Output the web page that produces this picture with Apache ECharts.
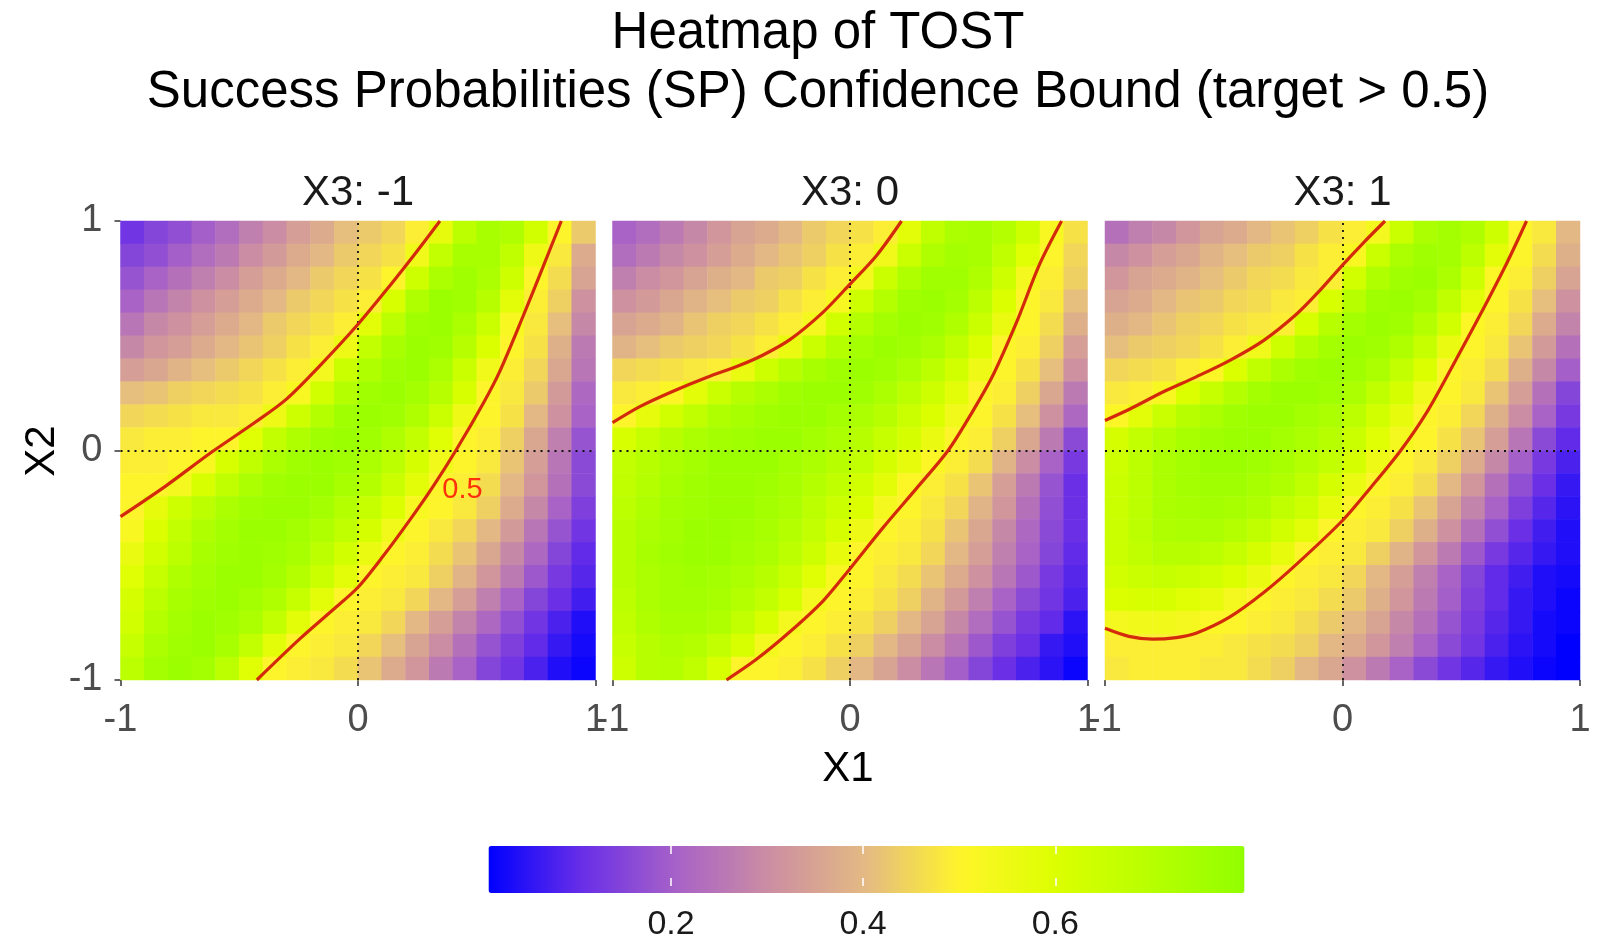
<!DOCTYPE html>
<html><head><meta charset="utf-8">
<script src="https://cdn.jsdelivr.net/npm/echarts@6/dist/echarts.min.js"></script>
<style>html,body{margin:0;padding:0;background:#fff}#c{width:1606px;height:942px}</style>
</head><body><div id="c"></div>
<script>
// ---------- data ----------
const mainTitle = ['Heatmap of TOST', 'Success Probabilities (SP) Confidence Bound (target > 0.5)'];
const panelNames = ['X3: -1', 'X3: 0', 'X3: 1'];
const xTitle = 'X1', yTitle = 'X2';
// cell centres (x1 left->right, x2 bottom->top)
const x1Cells = ['-0.95','-0.85','-0.75','-0.65','-0.55','-0.45','-0.35','-0.25','-0.15','-0.05','0.05','0.15','0.25','0.35','0.45','0.55','0.65','0.75','0.85','0.95'];
const x2Cells = ['-0.95','-0.85','-0.75','-0.65','-0.55','-0.45','-0.35','-0.25','-0.15','-0.05','0.05','0.15','0.25','0.35','0.45','0.55','0.65','0.75','0.85','0.95'];
const colorbarTicks = [0.2, 0.4, 0.6];
// SP confidence bound (x100), rows from x2 = 0.95 (top) down to x2 = -0.95
const spX3m1 = [
[12,15,17,20,23,27,30,34,37,41,43,45,49,57,69,74,72,63,50,43],
[15,17,20,23,26,30,33,37,40,43,45,47,54,67,74,74,68,55,48,37],
[18,21,24,27,30,34,37,40,43,45,47,50,64,73,76,73,64,50,46,35],
[21,25,28,31,34,37,40,43,45,47,49,61,72,77,76,70,58,49,44,31],
[25,29,31,34,37,40,43,45,47,49,58,69,76,77,73,65,52,48,41,29],
[29,32,34,37,40,42,44,47,49,55,67,74,77,76,70,60,50,47,38,26],
[34,36,39,41,43,45,47,49,53,65,72,76,77,73,65,54,49,45,36,25],
[41,42,44,45,46,47,49,52,63,71,76,77,75,70,61,50,48,43,33,22],
[45,46,47,48,48,49,55,64,71,76,77,76,72,65,55,50,47,40,31,21],
[48,49,49,50,50,59,67,72,76,77,76,72,67,59,50,49,44,36,27,18],
[49,49,50,52,61,68,73,76,77,76,73,69,62,54,50,48,42,34,25,16],
[50,50,53,61,68,73,76,77,77,74,71,65,58,50,49,46,40,32,24,16],
[50,57,64,69,73,76,77,77,75,71,66,60,52,50,48,44,37,29,21,14],
[52,60,67,72,75,77,77,75,72,68,62,54,50,48,45,40,33,25,18,12],
[56,63,69,74,76,77,76,74,69,63,56,50,49,46,42,36,29,22,15,10],
[59,66,72,75,77,77,75,71,65,58,50,49,48,44,39,32,26,19,13,9],
[62,69,74,76,77,75,72,66,58,50,49,48,45,40,34,27,21,15,11,7],
[63,71,75,77,76,73,67,58,50,49,48,45,40,34,28,22,17,12,8,4],
[66,73,76,77,74,67,58,50,49,48,45,41,35,30,24,18,14,10,6,3],
[69,75,77,75,69,59,50,49,48,46,42,37,32,26,21,15,12,8,4,2]];
const spX3z = [
[21,23,26,29,32,35,37,40,43,45,47,49,58,68,73,74,71,64,52,47],
[23,26,29,31,34,37,40,42,44,47,49,54,65,72,75,74,68,59,50,45],
[27,30,32,35,38,40,43,44,47,49,53,65,72,76,76,72,64,53,49,44],
[31,33,36,39,41,43,44,47,49,52,64,71,76,77,75,69,60,50,48,41],
[35,37,39,42,44,45,47,49,53,63,71,75,77,76,72,65,56,50,46,38],
[39,41,43,44,45,47,49,56,65,71,75,77,76,73,68,60,50,49,44,34],
[45,46,47,48,49,56,64,70,74,76,77,76,73,69,63,55,50,47,41,31],
[48,49,51,58,65,70,73,76,77,77,76,73,69,64,58,50,49,44,36,26],
[50,57,63,68,72,74,76,77,77,75,73,70,65,60,54,50,47,41,31,22],
[61,66,70,73,75,76,77,77,75,73,70,66,62,56,50,49,44,36,26,16],
[67,70,73,75,77,77,77,75,73,70,67,62,57,51,49,46,39,30,21,13],
[68,71,74,76,77,77,76,74,71,68,63,58,51,49,47,42,34,26,18,11],
[69,72,75,76,77,77,75,73,69,65,60,53,50,48,45,39,32,24,17,11],
[70,73,75,77,77,76,74,71,67,62,55,50,49,47,42,36,29,22,16,11],
[70,74,76,77,77,75,73,69,64,57,50,49,48,45,40,34,27,21,15,10],
[70,73,75,76,75,73,70,65,59,52,50,48,46,42,37,31,25,19,13,9],
[69,73,75,75,74,71,67,61,53,50,49,47,44,39,33,27,21,16,12,8],
[68,72,74,74,72,67,61,53,50,49,47,44,40,35,29,23,18,13,10,5],
[66,70,72,71,67,61,53,50,49,47,44,40,35,30,25,19,14,11,6,4],
[64,70,71,68,61,50,50,49,47,44,40,35,30,25,20,15,11,8,5,2]];
const spX3p1 = [
[24,27,29,32,35,37,40,42,44,47,49,53,65,73,75,72,64,50,48,40],
[29,31,34,36,39,41,43,44,47,49,52,65,73,76,75,69,58,50,46,38],
[32,35,37,39,41,43,45,46,48,49,63,72,76,77,73,64,51,49,44,35],
[35,37,40,42,43,45,46,48,49,61,70,76,77,75,68,58,50,47,41,31],
[38,40,42,44,45,47,48,49,61,70,75,77,76,71,63,51,49,45,37,28],
[41,43,44,45,47,49,54,64,71,75,77,76,72,66,56,50,48,42,33,24],
[45,46,47,49,51,60,68,73,76,77,76,73,67,60,50,49,46,38,29,20],
[48,49,52,60,66,71,75,77,77,76,73,68,62,54,50,48,42,34,24,15],
[51,58,65,70,73,76,77,77,75,73,69,63,57,50,49,45,38,30,21,13],
[62,67,71,74,76,77,77,75,73,70,65,59,53,50,47,42,34,25,16,10],
[64,69,73,75,77,77,76,74,71,67,62,55,50,48,44,37,29,20,13,8],
[65,69,73,75,76,76,74,72,68,62,56,50,49,46,40,32,24,17,11,6],
[65,69,73,74,75,74,72,68,64,57,50,49,47,42,35,28,21,14,9,5],
[65,69,72,73,73,71,68,63,58,50,49,48,44,38,31,24,17,11,7,4],
[65,68,70,70,69,66,62,57,50,49,48,44,39,32,26,19,13,9,6,4],
[63,65,66,65,63,60,56,50,49,48,45,40,34,27,21,15,10,7,4,3],
[60,61,61,59,57,53,50,49,48,46,43,38,32,26,20,14,10,6,4,2],
[53,54,54,53,51,50,49,48,46,43,40,35,29,24,18,13,9,6,3,2],
[49,49,49,49,49,48,47,46,44,40,37,32,27,21,16,12,8,5,3,1],
[48,49,49,49,48,48,46,44,40,36,31,26,21,16,12,9,6,4,2,1]];
// 0.5 contour lines [x1, x2]
const contourX3m1Upper = [[-1,-0.288],[-0.81,-0.155],[-0.62,-0.01],[-0.43,0.125],[-0.3,0.225],[-0.16,0.37],[0,0.55],[0.134,0.718],[0.246,0.865],[0.345,1]];
const contourX3m1Lower = [[-0.426,-1],[-0.244,-0.82],[-0.104,-0.693],[0,-0.596],[0.106,-0.46],[0.22,-0.3],[0.317,-0.155],[0.412,0],[0.527,0.205],[0.597,0.345],[0.695,0.585],[0.779,0.8],[0.856,1]];
const contourX3zUpper = [[-1,0.121],[-0.885,0.191],[-0.745,0.258],[-0.604,0.318],[-0.464,0.371],[-0.366,0.416],[-0.253,0.483],[-0.113,0.603],[0,0.725],[0.112,0.85],[0.217,1]];
const contourX3zLower = [[-0.52,-1],[-0.394,-0.91],[-0.253,-0.79],[-0.113,-0.655],[0,-0.515],[0.14,-0.335],[0.28,-0.165],[0.413,0],[0.519,0.175],[0.603,0.33],[0.701,0.558],[0.799,0.813],[0.891,1]];
const contourX3p1Upper = [[-1,0.131],[-0.895,0.181],[-0.754,0.256],[-0.614,0.322],[-0.474,0.393],[-0.333,0.479],[-0.193,0.595],[-0.095,0.698],[0,0.808],[0.088,0.905],[0.179,1]];
const contourX3p1Lower = [[-1,-0.775],[-0.9,-0.81],[-0.8,-0.822],[-0.7,-0.815],[-0.614,-0.795],[-0.474,-0.725],[-0.333,-0.62],[-0.193,-0.495],[0,-0.305],[0.12,-0.16],[0.245,0],[0.354,0.165],[0.467,0.375],[0.579,0.59],[0.691,0.815],[0.775,1]];
const contourLabel = {text: '0.5', x1: 0.44, x2: -0.17};

// ---------- build ----------
const FONT = "'Liberation Sans', Arial, Helvetica, sans-serif";
const tables = [spX3m1, spX3z, spX3p1];
const contours = [[contourX3m1Upper, contourX3m1Lower],[contourX3zUpper, contourX3zLower],[contourX3p1Upper, contourX3p1Lower]];
const L = [120.5, 612.5, 1105], W = 475, T = 221, H = 459;
const CB = {left: 488.5, top: 846, len: 756, thick: 47, min: 0.01, max: 0.797};
const pxPerUnit = CB.len / (CB.max - CB.min);

function cells(tab) {
  const out = [];
  const n = tab.length;
  tab.forEach((row, r) => row.forEach((v, c) => out.push([c, n - 1 - r, v / 100])));
  return out;
}

const grid = L.map(l => ({left: l, top: T, width: W, height: H}));
grid.push({left: CB.left - CB.min * pxPerUnit, top: CB.top, width: 0.8 * pxPerUnit, height: CB.thick});

const xAxis = [], yAxis = [], series = [];
for (let i = 0; i < 3; i++) {
  xAxis.push({type: 'category', gridIndex: i, data: x1Cells, show: false, position: 'top'});
  xAxis.push({type: 'value', gridIndex: i, min: -1, max: 1, interval: 1, position: 'bottom',
    axisLine: {show: false}, splitLine: {show: false},
    axisTick: {show: true, length: 6, lineStyle: {color: '#333333', width: 1.5}},
    axisLabel: {fontSize: 38, color: '#4d4d4d', margin: 22, fontFamily: FONT}});
  yAxis.push({type: 'category', gridIndex: i, data: x2Cells, show: false, position: 'right'});
  yAxis.push({type: 'value', gridIndex: i, min: -1, max: 1, interval: 1, position: 'left',
    axisLine: {show: false}, splitLine: {show: false},
    axisTick: {show: i === 0, length: 6, lineStyle: {color: '#333333', width: 1.5}},
    axisLabel: {show: i === 0, fontSize: 38, color: '#4d4d4d', margin: 18, fontFamily: FONT}});
}
// colour-bar tick axes
const cbTickFmt = v => colorbarTicks.some(t => Math.abs(t - v) < 1e-6) ? v.toFixed(1) : '';
xAxis.push({type: 'value', gridIndex: 3, min: 0, max: 0.8, interval: 0.2, position: 'bottom', z: 10,
  axisLine: {show: false}, splitLine: {show: false},
  axisTick: {show: true, inside: true, length: 8, lineStyle: {color: '#ffffff', width: 1.5}},
  axisLabel: {formatter: cbTickFmt, fontSize: 34, color: '#1a1a1a', margin: 22, fontFamily: FONT}});
xAxis.push({type: 'value', gridIndex: 3, min: 0, max: 0.8, interval: 0.2, position: 'top', z: 10,
  axisLine: {show: false}, splitLine: {show: false},
  axisTick: {show: true, inside: true, length: 8, lineStyle: {color: '#ffffff', width: 1.5}},
  axisLabel: {show: false}});
yAxis.push({type: 'value', gridIndex: 3, min: 0, max: 1, show: false});

for (let i = 0; i < 3; i++) {
  series.push({type: 'heatmap', xAxisIndex: 2 * i, yAxisIndex: 2 * i, data: cells(tables[i]),
    itemStyle: {borderWidth: 0}, emphasis: {disabled: true}, silent: true, progressive: 0});
}
for (let i = 0; i < 3; i++) {
  series.push({type: 'line', xAxisIndex: 2 * i + 1, yAxisIndex: 2 * i + 1, data: [], silent: true, z: 3,
    markLine: {silent: true, symbol: 'none', animation: false, label: {show: false},
      lineStyle: {type: [2, 5], color: '#111111', width: 1.8},
      data: [{xAxis: 0}, {yAxis: 0}]}});
  contours[i].forEach(line => series.push({type: 'line', xAxisIndex: 2 * i + 1, yAxisIndex: 2 * i + 1,
    data: line, smooth: 0.3, symbol: 'none', showSymbol: false, silent: true, z: 5,
    lineStyle: {color: '#d32a0c', width: 3.2}}));
}
series.push({type: 'scatter', xAxisIndex: 1, yAxisIndex: 1, data: [[contourLabel.x1, contourLabel.x2]],
  symbolSize: 0, silent: true, z: 6,
  label: {show: true, position: 'inside', formatter: contourLabel.text, color: '#ff0000', fontSize: 29, fontFamily: FONT}});

function txt(x, y, text, size, color, rot) {
  return {type: 'text', x: x, y: y, rotation: rot || 0, silent: true, z: 20,
    style: {text: text, font: size + 'px ' + FONT, fill: color,
      align: 'center', verticalAlign: 'middle', textAlign: 'center', textVerticalAlign: 'middle'}};
}
const graphic = [
  txt(818, 34, mainTitle[0], 51, '#000000'),
  txt(818, 93, mainTitle[1], 51, '#000000'),
  txt(L[0] + W / 2, 193, panelNames[0], 42, '#1a1a1a'),
  txt(L[1] + W / 2, 193, panelNames[1], 42, '#1a1a1a'),
  txt(L[2] + W / 2, 193, panelNames[2], 42, '#1a1a1a'),
  txt(848, 769, xTitle, 42, '#000000'),
  txt(42, 451, yTitle, 42, '#000000', Math.PI / 2)
];

const option = {
  backgroundColor: '#ffffff',
  animation: false,
  grid: grid, xAxis: xAxis, yAxis: yAxis, series: series, graphic: graphic,
  visualMap: {type: 'continuous', seriesIndex: [0, 1, 2], min: CB.min, max: CB.max,
    orient: 'horizontal', left: CB.left, top: CB.top, itemWidth: CB.thick, itemHeight: CB.len,
    calculable: false, hoverLink: false, padding: 0, text: null, showLabel: false,
    inRange: {color: ['#0000ff', '#6a2fe7', '#a862c7', '#cc8fa1', '#e4ba83', '#fff52a', '#dcff00', '#b8ff00', '#92ff00']}}
};
const chart = echarts.init(document.getElementById('c'), null, {renderer: 'canvas'});
chart.setOption(option);
</script></body></html>
